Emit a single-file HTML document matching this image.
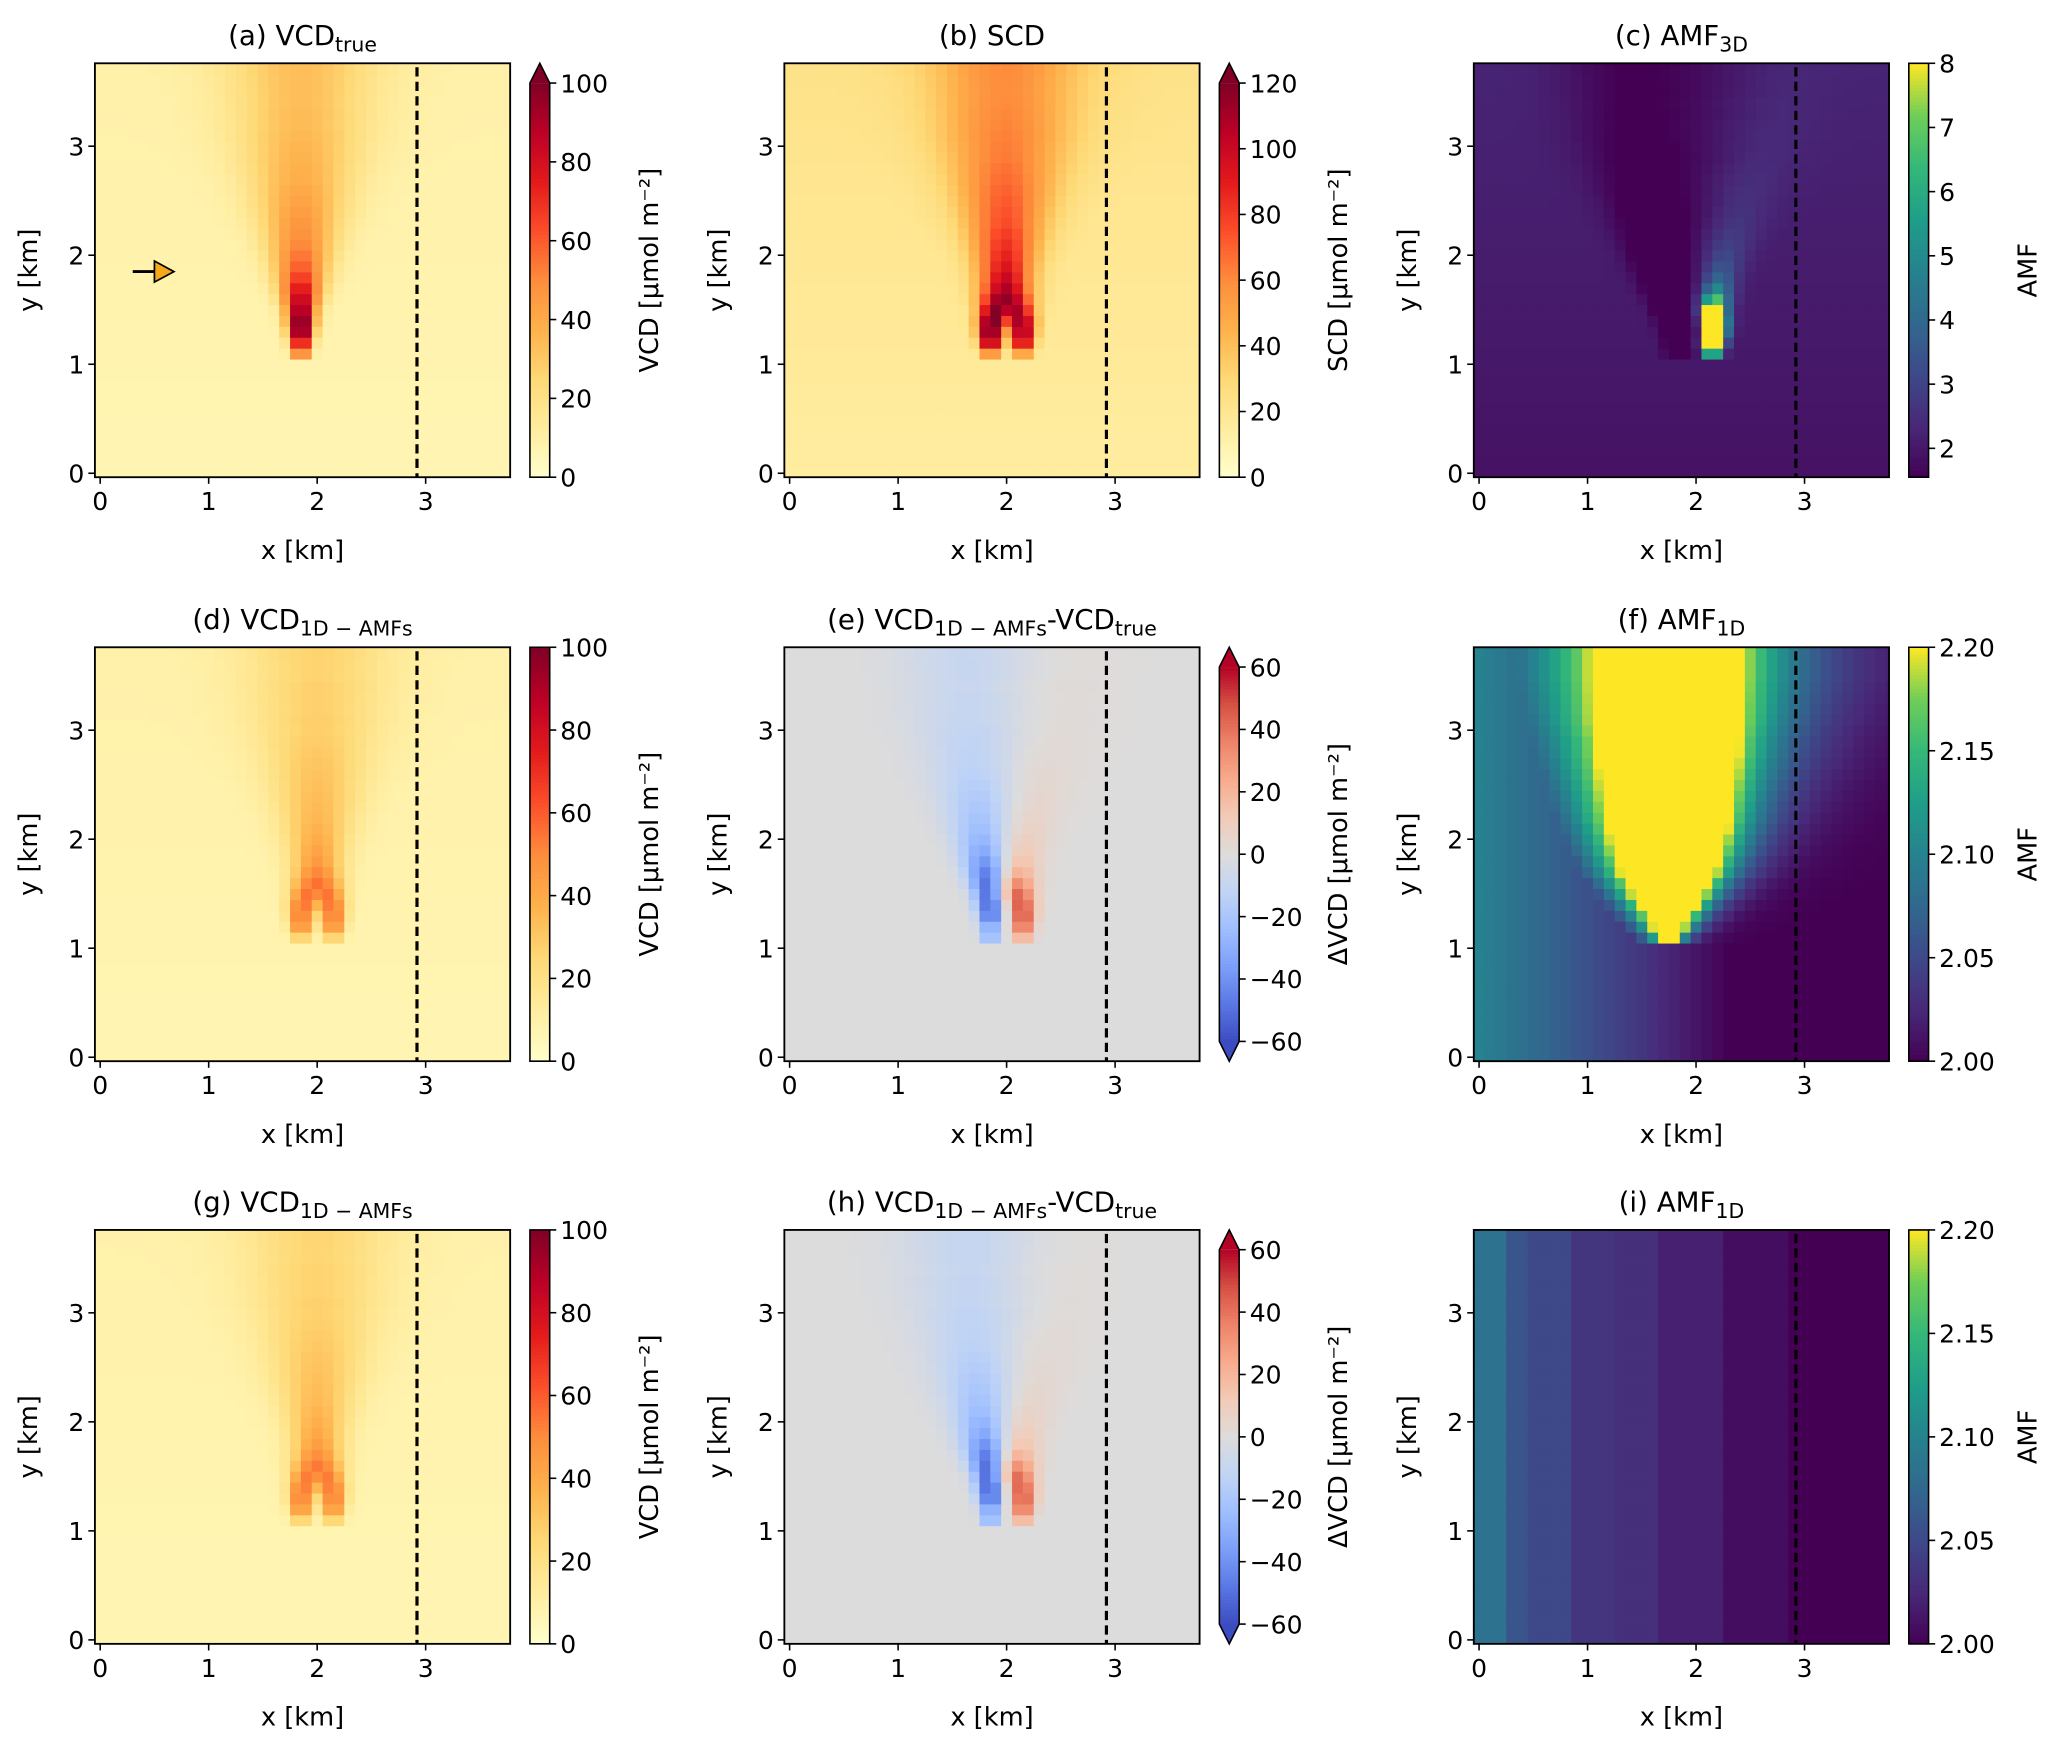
<!DOCTYPE html>
<html><head><meta charset="utf-8">
<style>
html,body{margin:0;padding:0;background:#fff;}
svg{display:block;font-family:"DejaVu Sans","Liberation Sans",sans-serif;}
</style></head>
<body>
<svg id="fig" xmlns="http://www.w3.org/2000/svg" width="2067" height="1748" viewBox="0 0 1568 1326">
<rect x="0" y="0" width="1568" height="1326" fill="#fff"/>
</svg>
<script>
// ---------- data (rows y = 1.1 .. 3.7 km, step 0.1) ----------
const plumeRowsY = [1.1,1.2,1.3,1.4,1.5,1.6,1.7,1.8,1.9,2.0,2.1,2.2,2.3,2.4,2.5,2.6,2.7,2.8,2.9,3.0,3.1,3.2,3.3,3.4,3.5,3.6,3.7];
const plumeSigma = [0.06,0.07,0.08,0.09,0.10,0.12,0.14,0.16,0.18,0.20,0.22,0.24,0.26,0.28,0.30,0.32,0.34,0.36,0.38,0.40,0.42,0.43,0.44,0.45,0.46,0.47,0.48];
const lobeOffset = [0.15,0.15,0.15,0.14,0.12,0.10,0.08,0.06,0.04,0.02,0,0,0,0,0,0,0,0,0,0,0,0,0,0,0,0,0];
const vcdTruePeak = [55,80,100,100,90,80,70,60,52,47,43,40,38,36,34,32,30,29,28,27,26,25,25,24,24,24,24];
const scdPeak = [45,90,100,98,90,82,76,72,68,64,60,56,52,50,48,46,44,42,40,39,38,37,36,35,34,34,34];
const vcd1dPeak = [25,45,50,49,46,42,38,35,33,31,29,27,26,25,24,23,22,21,20,19,19,18,18,18,17,17,17];
const amf1dHalfWidth = [0.05,0.12,0.18,0.24,0.30,0.35,0.40,0.43,0.46,0.48,0.50,0.52,0.53,0.54,0.55,0.56,0.57,0.58,0.58,0.59,0.60,0.60,0.60,0.60,0.60,0.60,0.60];
const amf1dDecay = [0.12,0.14,0.16,0.18,0.2,0.22,0.24,0.26,0.28,0.3,0.32,0.34,0.36,0.38,0.40,0.42,0.44,0.46,0.48,0.5,0.52,0.54,0.56,0.58,0.6,0.6,0.6];
// panel (i): column AMF values for x = 0.0 .. 3.8 km
const amf1dColumns = [2.085,2.085,2.085,2.06,2.06,2.05,2.05,2.05,2.05,2.035,2.035,2.035,2.035,2.03,2.03,2.03,2.03,2.02,2.02,2.02,2.02,2.02,2.02,2.008,2.008,2.008,2.008,2.008,2.008,2.0,2.0,2.0,2.0,2.0,2.0,2.0,2.0,2.0,2.0];
const xTicks = [0,1,2,3];
const yTicks = [0,1,2,3];
const dashedX = 2.92;

// ---------- colormaps ----------
const YLORRD = ['#ffffcc','#ffeda0','#fed976','#feb24c','#fd8d3c','#fc4e2a','#e31a1c','#bd0026','#800026'];
const COOLWARM = ['#3b4cc0','#5977e3','#7b9ff9','#9ebeff','#c0d4f5','#dddcdc','#f2cbb7','#f7ac8e','#ee8468','#d65244','#b40426'];
const VIRIDIS = ['#440154','#482878','#3e4989','#31688e','#26828e','#1f9e89','#35b779','#6ece58','#fde725'];
function hex(c){return [parseInt(c.substr(1,2),16),parseInt(c.substr(3,2),16),parseInt(c.substr(5,2),16)];}
function cmap(stops,t){
  t=Math.max(0,Math.min(1,t));
  const n=stops.length-1, f=t*n, i=Math.min(n-1,Math.floor(f)), r=f-i;
  const a=hex(stops[i]),b=hex(stops[i+1]);
  return 'rgb('+[0,1,2].map(k=>Math.round(a[k]+(b[k]-a[k])*r)).join(',')+')';
}

// ---------- fields ----------
function rowIdx(y){return Math.max(0,Math.min(26,Math.round((y-1.1)/0.1)));}
function g(d,s){return Math.exp(-d*d/(2*s*s));}
function plumeSingle(x,y,peak){ if(y<1.05) return 0; const i=rowIdx(y); return peak[i]*g(x-1.85,plumeSigma[i]); }
function plumeDouble(x,y,peak){ if(y<1.05) return 0; const i=rowIdx(y),s=plumeSigma[i],d=lobeOffset[i];
  return peak[i]*(g(x-2.0+d,s)+g(x-2.0-d,s))/(1+g(2*d,s)); }
function bgA(y){return 7.5+0.6*y;}
function bgB(y){return 15+2.2*y;}
const fields = {
  a:(x,y)=>bgA(y)+plumeSingle(x,y,vcdTruePeak),
  b:(x,y)=>bgB(y)+plumeDouble(x,y,scdPeak)+0.12*plumeSingle(x,y,vcdTruePeak),
  d:(x,y)=>bgA(y)+plumeDouble(x,y,vcd1dPeak),
  f:(x,y)=>{ const left=2.0+0.1*Math.max(0,1-x/2.3);
    if(y<1.05) return left; const i=rowIdx(y); const dx=x-1.75;
    const d=Math.max(0,Math.abs(dx)-amf1dHalfWidth[i]);
    const L=amf1dDecay[i]*(dx<0?1.3:1);
    return Math.max(left, 2.0+0.23*Math.exp(-d/L)); },
  i:(x,y)=>amf1dColumns[Math.max(0,Math.min(38,Math.round(x/0.1)))]
};
fields.c=(x,y)=>fields.b(x,y)/fields.a(x,y)*0.95;
fields.e=(x,y)=>fields.d(x,y)-fields.a(x,y);
fields.g=(x,y)=>fields.d(x,y)*0.97;
fields.h=(x,y)=>fields.g(x,y)-fields.a(x,y);

// ---------- layout ----------
const NS='http://www.w3.org/2000/svg';
const svg=document.getElementById('fig');
function el(tag,attrs,parent){const e=document.createElementNS(NS,tag);for(const k in attrs)e.setAttribute(k,attrs[k]);(parent||svg).appendChild(e);return e;}
const colX=[72,595,1118], rowY=[48,491,933], AW=315, AH=314;
const TICK_FS=19, LAB_FS=19.5, TITLE_FS=21;

const panels=[
 {id:'a',c:0,r:0,title:['(a) VCD','true',''],cm:YLORRD,vmin:0,vmax:100,ticks:[0,20,40,60,80,100],fmt:v=>v,extTop:true,extBot:false,label:'VCD [\u03bcmol m\u207b\u00b2]'},
 {id:'b',c:1,r:0,title:['(b) SCD','',''],cm:YLORRD,vmin:0,vmax:120,ticks:[0,20,40,60,80,100,120],fmt:v=>v,extTop:true,extBot:false,label:'SCD [\u03bcmol m\u207b\u00b2]'},
 {id:'c',c:2,r:0,title:['(c) AMF','3D',''],cm:VIRIDIS,vmin:1.55,vmax:8,ticks:[2,3,4,5,6,7,8],fmt:v=>v,extTop:false,extBot:false,label:'AMF'},
 {id:'d',c:0,r:1,title:['(d) VCD','1D \u2212 AMFs',''],cm:YLORRD,vmin:0,vmax:100,ticks:[0,20,40,60,80,100],fmt:v=>v,extTop:false,extBot:false,label:'VCD [\u03bcmol m\u207b\u00b2]'},
 {id:'e',c:1,r:1,title:['(e) VCD','1D \u2212 AMFs','-VCD','true'],cm:COOLWARM,vmin:-60,vmax:60,ticks:[-60,-40,-20,0,20,40,60],fmt:v=>v<0?'\u2212'+(-v):v,extTop:true,extBot:true,label:'\u0394VCD [\u03bcmol m\u207b\u00b2]'},
 {id:'f',c:2,r:1,title:['(f) AMF','1D',''],cm:VIRIDIS,vmin:2.0,vmax:2.2,ticks:[2.0,2.05,2.1,2.15,2.2],fmt:v=>v.toFixed(2),extTop:false,extBot:false,label:'AMF'},
 {id:'g',c:0,r:2,title:['(g) VCD','1D \u2212 AMFs',''],cm:YLORRD,vmin:0,vmax:100,ticks:[0,20,40,60,80,100],fmt:v=>v,extTop:false,extBot:false,label:'VCD [\u03bcmol m\u207b\u00b2]'},
 {id:'h',c:1,r:2,title:['(h) VCD','1D \u2212 AMFs','-VCD','true'],cm:COOLWARM,vmin:-60,vmax:60,ticks:[-60,-40,-20,0,20,40,60],fmt:v=>v<0?'\u2212'+(-v):v,extTop:true,extBot:true,label:'\u0394VCD [\u03bcmol m\u207b\u00b2]'},
 {id:'i',c:2,r:2,title:['(i) AMF','1D',''],cm:VIRIDIS,vmin:2.0,vmax:2.2,ticks:[2.0,2.05,2.1,2.15,2.2],fmt:v=>v.toFixed(2),extTop:false,extBot:false,label:'AMF'}
];

panels.forEach(p=>{
  const ax=colX[p.c], ay=rowY[p.r];
  const X=v=>ax+4+v*82.3, Y=v=>ay+311-v*82.7;
  const grp=el('g',{});
  
  
  const clip=el('clipPath',{id:'clip'+p.id},grp);
  el('rect',{x:ax,y:ay,width:AW,height:AH},clip);
  const hm=el('g',{'clip-path':'url(#clip'+p.id+')'},grp);
  
  
  const F=fields[p.id];
  for(let ix=0;ix<39;ix++){for(let iy=0;iy<39;iy++){
    const xv=ix*0.1, yv=iy*0.1;
    const val=F(xv,yv);
    const r=el('rect',{x:X(xv-0.05).toFixed(2),y:Y(yv+0.05).toFixed(2),width:(0.1*82.3+0.6).toFixed(2),height:(0.1*82.7+0.6).toFixed(2),fill:cmap(p.cm,(val-p.vmin)/(p.vmax-p.vmin))},hm);
    
    
  }}
  const dl=el('line',{x1:X(dashedX),x2:X(dashedX),y1:ay+3,y2:ay+AH,stroke:'#000','stroke-width':2.4,'stroke-dasharray':'7,4'},grp);
  
  
  const fr=el('rect',{x:ax,y:ay,width:AW,height:AH,fill:'none',stroke:'#000','stroke-width':1.4},grp);
  
  
  xTicks.forEach(t=>{
    el('line',{x1:X(t),x2:X(t),y1:ay+AH,y2:ay+AH+5,stroke:'#000','stroke-width':1.2},grp);
    const tx=el('text',{x:X(t),y:ay+AH+25,'font-size':TICK_FS,'text-anchor':'middle',fill:'#000'},grp);
    tx.textContent=t;
    
    
  });
  yTicks.forEach(t=>{
    el('line',{x1:ax-5,x2:ax,y1:Y(t),y2:Y(t),stroke:'#000','stroke-width':1.2},grp);
    const tx=el('text',{x:ax-8,y:Y(t)+7,'font-size':TICK_FS,'text-anchor':'end',fill:'#000'},grp);
    tx.textContent=t;
    
    
  });
  const xl=el('text',{x:ax+AW/2,y:ay+AH+62,'font-size':LAB_FS,'text-anchor':'middle'},grp);
  xl.textContent='x [km]';
  
  
  const yl=el('text',{x:0,y:0,'font-size':LAB_FS,'text-anchor':'middle',transform:'translate('+(ax-44)+','+(ay+AH/2)+') rotate(-90)'},grp);
  yl.textContent='y [km]';
  
  
  const tt=el('text',{x:ax+AW/2,y:ay-14,'font-size':TITLE_FS,'text-anchor':'middle'},grp);
  
  
  p.title.forEach((s,k)=>{ if(!s) return; const sp=el('tspan',{},tt); sp.textContent=s;
    if(k%2===1){sp.setAttribute('font-size','15.5');sp.setAttribute('dy','5');}
    else if(k>0){sp.setAttribute('dy','-5');}
  });
  // colorbar
  const cbx=ax+330, cbw=15;
  const top=ay+(p.extTop?15:0), bot=ay+AH-(p.extBot?15:0);
  const cb=el('g',{},grp);
  
  
  const N=120;
  for(let k=0;k<N;k++){
    const y0=bot-(k+1)*(bot-top)/N;
    el('rect',{x:cbx,y:y0,width:cbw,height:(bot-top)/N+0.6,fill:cmap(p.cm,(k+0.5)/N)},cb);
  }
  let outline='M'+cbx+','+bot+' L'+cbx+','+top;
  if(p.extTop){el('path',{d:'M'+cbx+','+top+' L'+(cbx+cbw/2)+','+ay+' L'+(cbx+cbw)+','+top+'Z',fill:cmap(p.cm,1)},cb);outline+=' L'+(cbx+cbw/2)+','+ay;}
  outline+=' L'+(cbx+cbw)+','+top+' L'+(cbx+cbw)+','+bot;
  if(p.extBot){el('path',{d:'M'+cbx+','+bot+' L'+(cbx+cbw/2)+','+(ay+AH)+' L'+(cbx+cbw)+','+bot+'Z',fill:cmap(p.cm,0)},cb);outline+=' L'+(cbx+cbw/2)+','+(ay+AH);}
  outline+=' Z';
  el('path',{d:outline,fill:'none',stroke:'#000','stroke-width':1.2},cb);
  p.ticks.forEach(t=>{
    const yy=bot-(t-p.vmin)/(p.vmax-p.vmin)*(bot-top);
    el('line',{x1:cbx+cbw,x2:cbx+cbw+5,y1:yy,y2:yy,stroke:'#000','stroke-width':1.2},cb);
    const tx=el('text',{x:cbx+cbw+8,y:yy+7,'font-size':TICK_FS},cb);
    tx.textContent=p.fmt(t);
    
    
  });
  const cl=el('text',{x:0,y:0,'font-size':LAB_FS,'text-anchor':'middle',transform:'translate('+(cbx+97)+','+(ay+AH/2)+') rotate(-90)'},cb);
  cl.textContent=p.label;
  
  
  if(p.id==='a'){
    const ar=el('g',{},grp);
    
    
    el('line',{x1:X(0.3),x2:X(0.5),y1:Y(1.85),y2:Y(1.85),stroke:'#000','stroke-width':2.2},ar);
    el('path',{d:'M'+X(0.5)+','+(Y(1.85)-8)+' L'+X(0.68)+','+Y(1.85)+' L'+X(0.5)+','+(Y(1.85)+8)+'Z',fill:'#f5a81c',stroke:'#000','stroke-width':1.3},ar);
  }
});
</script>
</body></html>
